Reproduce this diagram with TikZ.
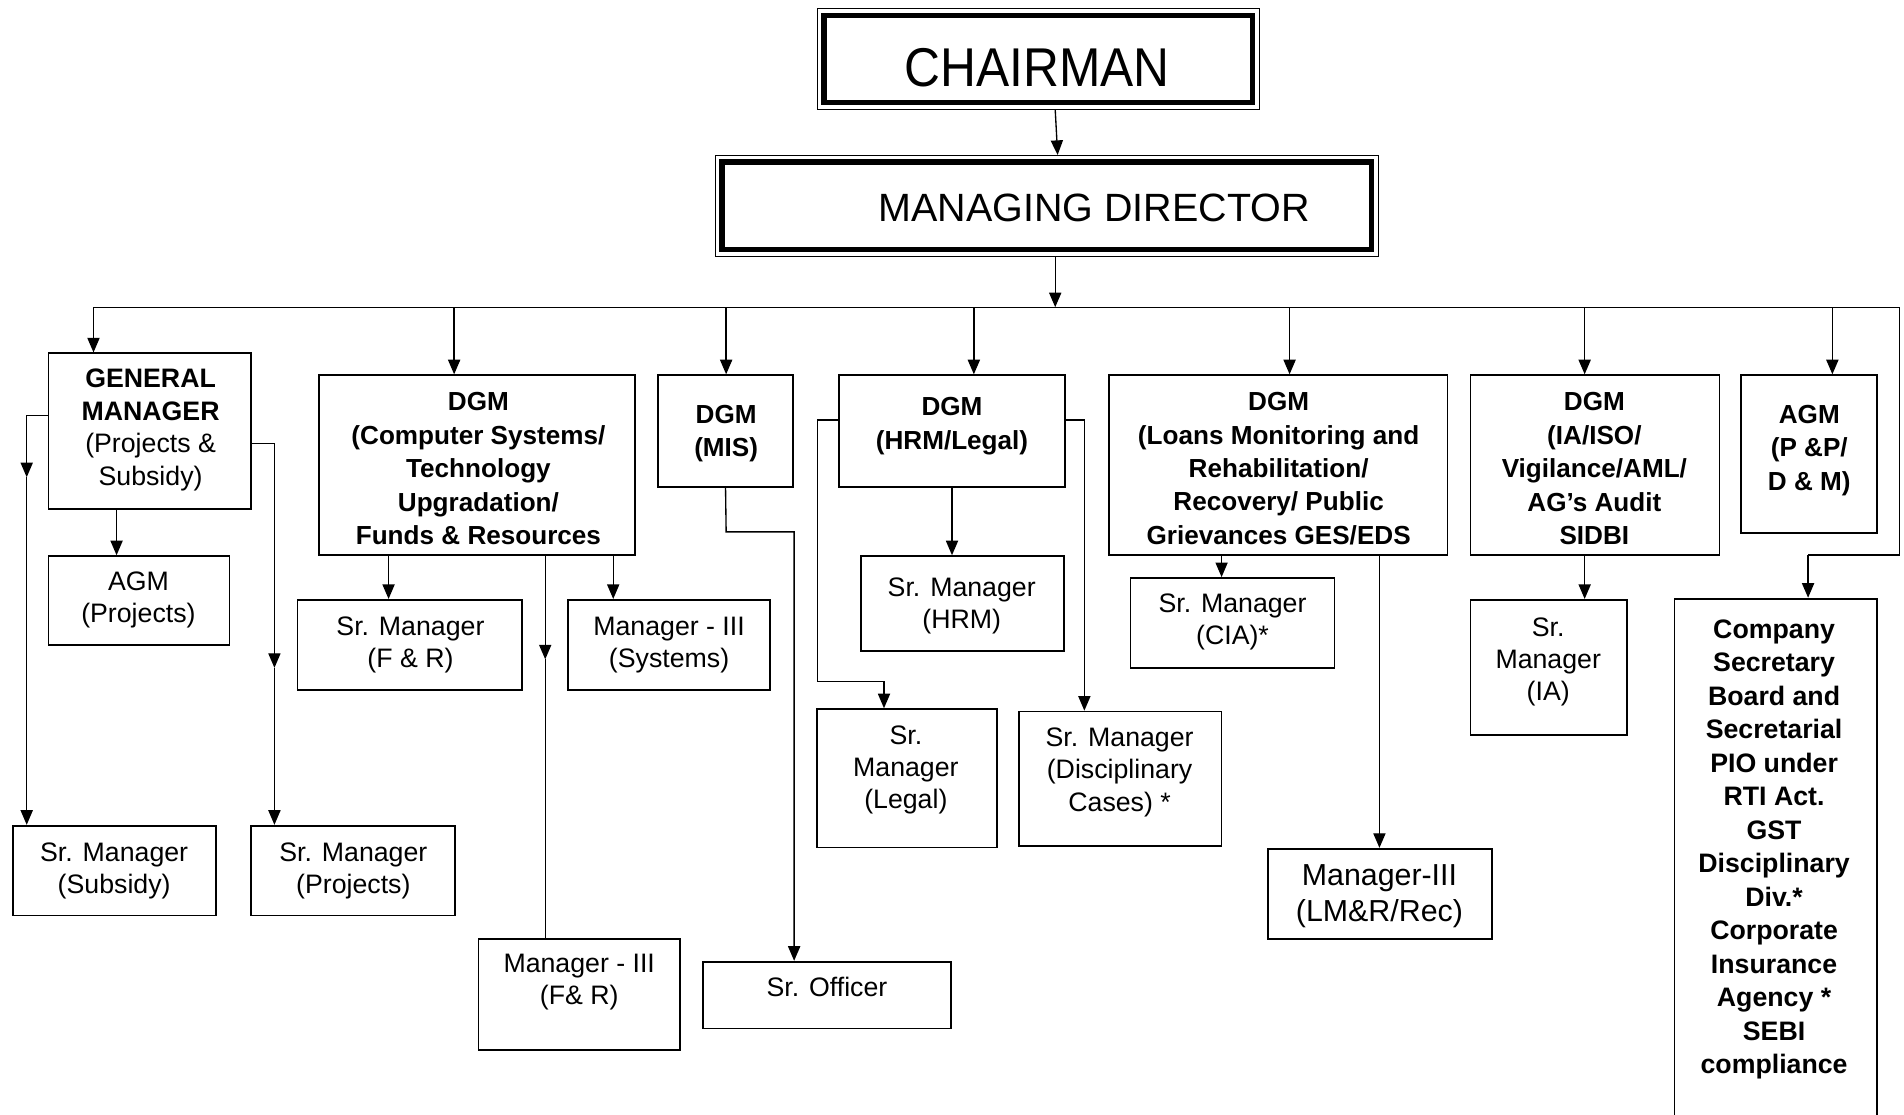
\documentclass[tikz,border=0pt]{standalone}
\usepackage{fontspec}
\setmainfont{Liberation Sans}
\newfontfamily\chairfont{Liberation Sans}[FakeStretch=0.91]
\usetikzlibrary{arrows.meta,fit}
\tikzset{
  box/.style={draw, line width=1.5pt, inner sep=0pt},
  txt/.style={align=center, inner sep=0pt, font=\fontsize{22}{26.5}\selectfont},
  btxt/.style={align=center, inner sep=0pt, font=\fontsize{21.5}{27.5}\selectfont\bfseries},
  conn/.style={line width=1.1pt},
  arr/.style={line width=1.1pt, -{Triangle[length=12pt,width=10pt]}},
}
\begin{document}
\begin{tikzpicture}[x=1pt,y=-1pt]
\useasboundingbox (0,0) rectangle (1568,918);
\clip (0,0) rectangle (1568,918);

% ---------- top boxes ----------
\node[draw, line width=0.8pt, inner sep=0pt, fit={(673,7) (1037,90)}] (ch) {};
\draw[line width=4.5pt] ([xshift=6pt,yshift=-6pt]ch.north west) rectangle ([xshift=-6pt,yshift=6pt]ch.south east);
\node[inner sep=0pt] (ch-t) at (854,56) {\chairfont\fontsize{45}{50}\selectfont CHAIRMAN};

\node[draw, line width=0.8pt, inner sep=0pt, fit={(589,128) (1135,211)}] (md) {};
\draw[line width=4.5pt] ([xshift=6pt,yshift=-6pt]md.north west) rectangle ([xshift=-6pt,yshift=6pt]md.south east);
\node[inner sep=0pt] (md-t) at (901,171) {\fontsize{32.5}{38}\selectfont MANAGING DIRECTOR};

% ---------- level 1 ----------
\node[box, fit={(40,291) (207,419)}] (gm) {};
\node[txt, font=\fontsize{22}{27}\selectfont] (gm-t) at (124,354) {\textbf{GENERAL}\\\textbf{MANAGER}\\(Projects \&\\Subsidy)};

\node[box, fit={(263,309) (523,457)}] (dcs) {};
\node[btxt] (dcs-t) at (394,386) {DGM\\(Computer Systems/\\Technology\\Upgradation/\\Funds \& Resources};

\node[box, fit={(542,309) (653,401)}] (mis) {};
\node[btxt] (mis-t) at (598,357) {DGM\\(MIS)};

\node[box, fit={(691,309) (877,401)}] (hrm) {};
\node[btxt] (hrm-t) at (784,351) {DGM\\(HRM/Legal)};

\node[box, fit={(913,309) (1192,457)}] (ln) {};
\node[btxt] (ln-t) at (1053,386) {DGM\\(Loans Monitoring and\\Rehabilitation/\\Recovery/ Public\\Grievances GES/EDS};

\node[box, fit={(1211,309) (1416,457)}] (ia) {};
\node[btxt] (ia-t) at (1313,386) {DGM\\(IA/ISO/\\Vigilance/AML/\\AG’s Audit\\SIDBI};

\node[box, fit={(1434,309) (1546,439)}] (agm) {};
\node[btxt] (agm-t) at (1490,371) {AGM\\(P \&P/\\D \& M)};

% ---------- level 2 ----------
\node[box, fit={(40,458) (189,531)}] (agmp) {};
\node[txt] (agmp-t) at (114,494) {AGM\\(Projects)};

\node[box, fit={(11,680) (178,754)}] (sub) {};
\node[txt] (sub-t) at (94,717) {Sr. Manager\\(Subsidy)};

\node[box, fit={(207,680) (375,754)}] (prj) {};
\node[txt] (prj-t) at (291,717) {Sr. Manager\\(Projects)};

\node[box, fit={(245,494) (430,568)}] (sfr) {};
\node[txt] (sfr-t) at (338,531) {Sr. Manager\\(F \& R)};

\node[box, fit={(468,494) (634,568)}] (sys) {};
\node[txt] (sys-t) at (551,531) {Manager - III\\(Systems)};

\node[box, fit={(394,773) (560,865)}] (mfr) {};
\node[txt] (mfr-t) at (477,809) {Manager - III\\(F\& R)};

\node[box, fit={(579,792) (783,847)}] (sro) {};
\node[txt] (sro-t) at (681,813) {Sr. Officer};

\node[box, fit={(709,458) (876,536)}] (shrm) {};
\node[txt] (shrm-t) at (792,499) {Sr. Manager\\(HRM)};

\node[box, fit={(673,584) (821,698)}] (leg) {};
\node[txt] (leg-t) at (746,634) {Sr.\\Manager\\(Legal)};

\node[box, fit={(839,586) (1006,697)}] (dis) {};
\node[txt] (dis-t) at (922,636) {Sr. Manager\\(Disciplinary\\Cases) *};

\node[box, fit={(931,476) (1099,550)}] (cia) {};
\node[txt] (cia-t) at (1015,512) {Sr. Manager\\(CIA)*};

\node[box, fit={(1044,699) (1229,773)}] (lmr) {};
\node[txt, font=\fontsize{25}{30}\selectfont] (lmr-t) at (1136,738) {Manager-III\\(LM\&R/Rec)};

\node[box, fit={(1211,494) (1340,605)}] (sia) {};
\node[txt] (sia-t) at (1275,545) {Sr.\\Manager\\(IA)};

\node[box, fit={(1379,493) (1546,940)}] (cosec) {};
\node[btxt, anchor=north, font=\fontsize{22}{27.6}\selectfont\bfseries] (cosec-t) at (1461,510)
  {Company\\Secretary\\Board and\\Secretarial\\PIO under\\RTI Act.\\GST\\Disciplinary\\Div.*\\Corporate\\Insurance\\Agency *\\SEBI\\compliance};

% ---------- connectors ----------
\draw[arr] ([xshift=14pt]ch.south) -- ([xshift=9pt]md.north);
\coordinate (bm) at (869,253);
\draw[arr] ([xshift=7pt]md.south) -- (bm);

\coordinate (bL) at (77,253);
\coordinate (bR) at (1564,253);
\coordinate (bRd) at (1564,457);
\coordinate (bCs) at (1489,457);
\draw[conn] (bL) -- (bR) -- (bRd) -- (bCs);
\draw[arr] (bCs) -- (bCs |- cosec.north);

\coordinate (b1) at (374,253);
\coordinate (b2) at (598,253);
\coordinate (b3) at (802,253);
\coordinate (b4) at (1062,253);
\coordinate (b5) at (1305,253);
\coordinate (b6) at (1509,253);
\draw[arr] (bL) -- (bL |- gm.north);
\draw[arr] (b1) -- (b1 |- dcs.north);
\draw[arr] (b2) -- (b2 |- mis.north);
\draw[arr] (b3) -- (b3 |- hrm.north);
\draw[arr] (b4) -- (b4 |- ln.north);
\draw[arr] (b5) -- (b5 |- ia.north);
\draw[arr] (b6) -- (b6 |- agm.north);

% GM
\coordinate (g0) at (96,419);
\draw[arr] (g0) -- (g0 |- agmp.north);
\coordinate (g1s) at (40,342);
\coordinate (g1) at (22,342);
\coordinate (g1m) at (22,393);
\draw[arr] (g1s) -- (g1) -- (g1m);
\draw[arr] (g1m) -- (g1m |- sub.north);
\coordinate (g2s) at (207,365);
\coordinate (g2) at (226,365);
\coordinate (g2m) at (226,550);
\draw[arr] (g2s) -- (g2) -- (g2m);
\draw[arr] (g2m) -- (g2m |- prj.north);

% DGM CS
\coordinate (c1) at (320,457);
\draw[arr] (c1) -- (c1 |- sfr.north);
\coordinate (c2) at (505,457);
\draw[arr] (c2) -- (c2 |- sys.north);
\coordinate (c3) at (449,457);
\coordinate (c3m) at (449,543);
\draw[arr] (c3) -- (c3m);
\draw[conn] (c3m) -- (c3m |- mfr.north);

% MIS
\coordinate (m1) at (598,438);
\coordinate (m2) at (654,438);
\draw[arr] (mis.south) -- (m1) -- (m2) -- (m2 |- sro.north);

% HRM
\coordinate (h0) at (784,401);
\draw[arr] (h0) -- (h0 |- shrm.north);
\coordinate (h1s) at (691,346);
\coordinate (h1) at (673,346);
\coordinate (h2) at (673,561);
\coordinate (h3) at (728,561);
\draw[arr] (h1s) -- (h1) -- (h2) -- (h3) -- (h3 |- leg.north);
\coordinate (h4s) at (877,346);
\coordinate (h4) at (893,346);
\draw[arr] (h4s) -- (h4) -- (h4 |- dis.north);

% Loans
\coordinate (l1) at (1006,457);
\draw[arr] (l1) -- (l1 |- cia.north);
\coordinate (l2) at (1136,457);
\draw[arr] (l2) -- (l2 |- lmr.north);

% IA
\coordinate (i1) at (1305,457);
\draw[arr] (i1) -- (i1 |- sia.north);
\end{tikzpicture}
\end{document}
